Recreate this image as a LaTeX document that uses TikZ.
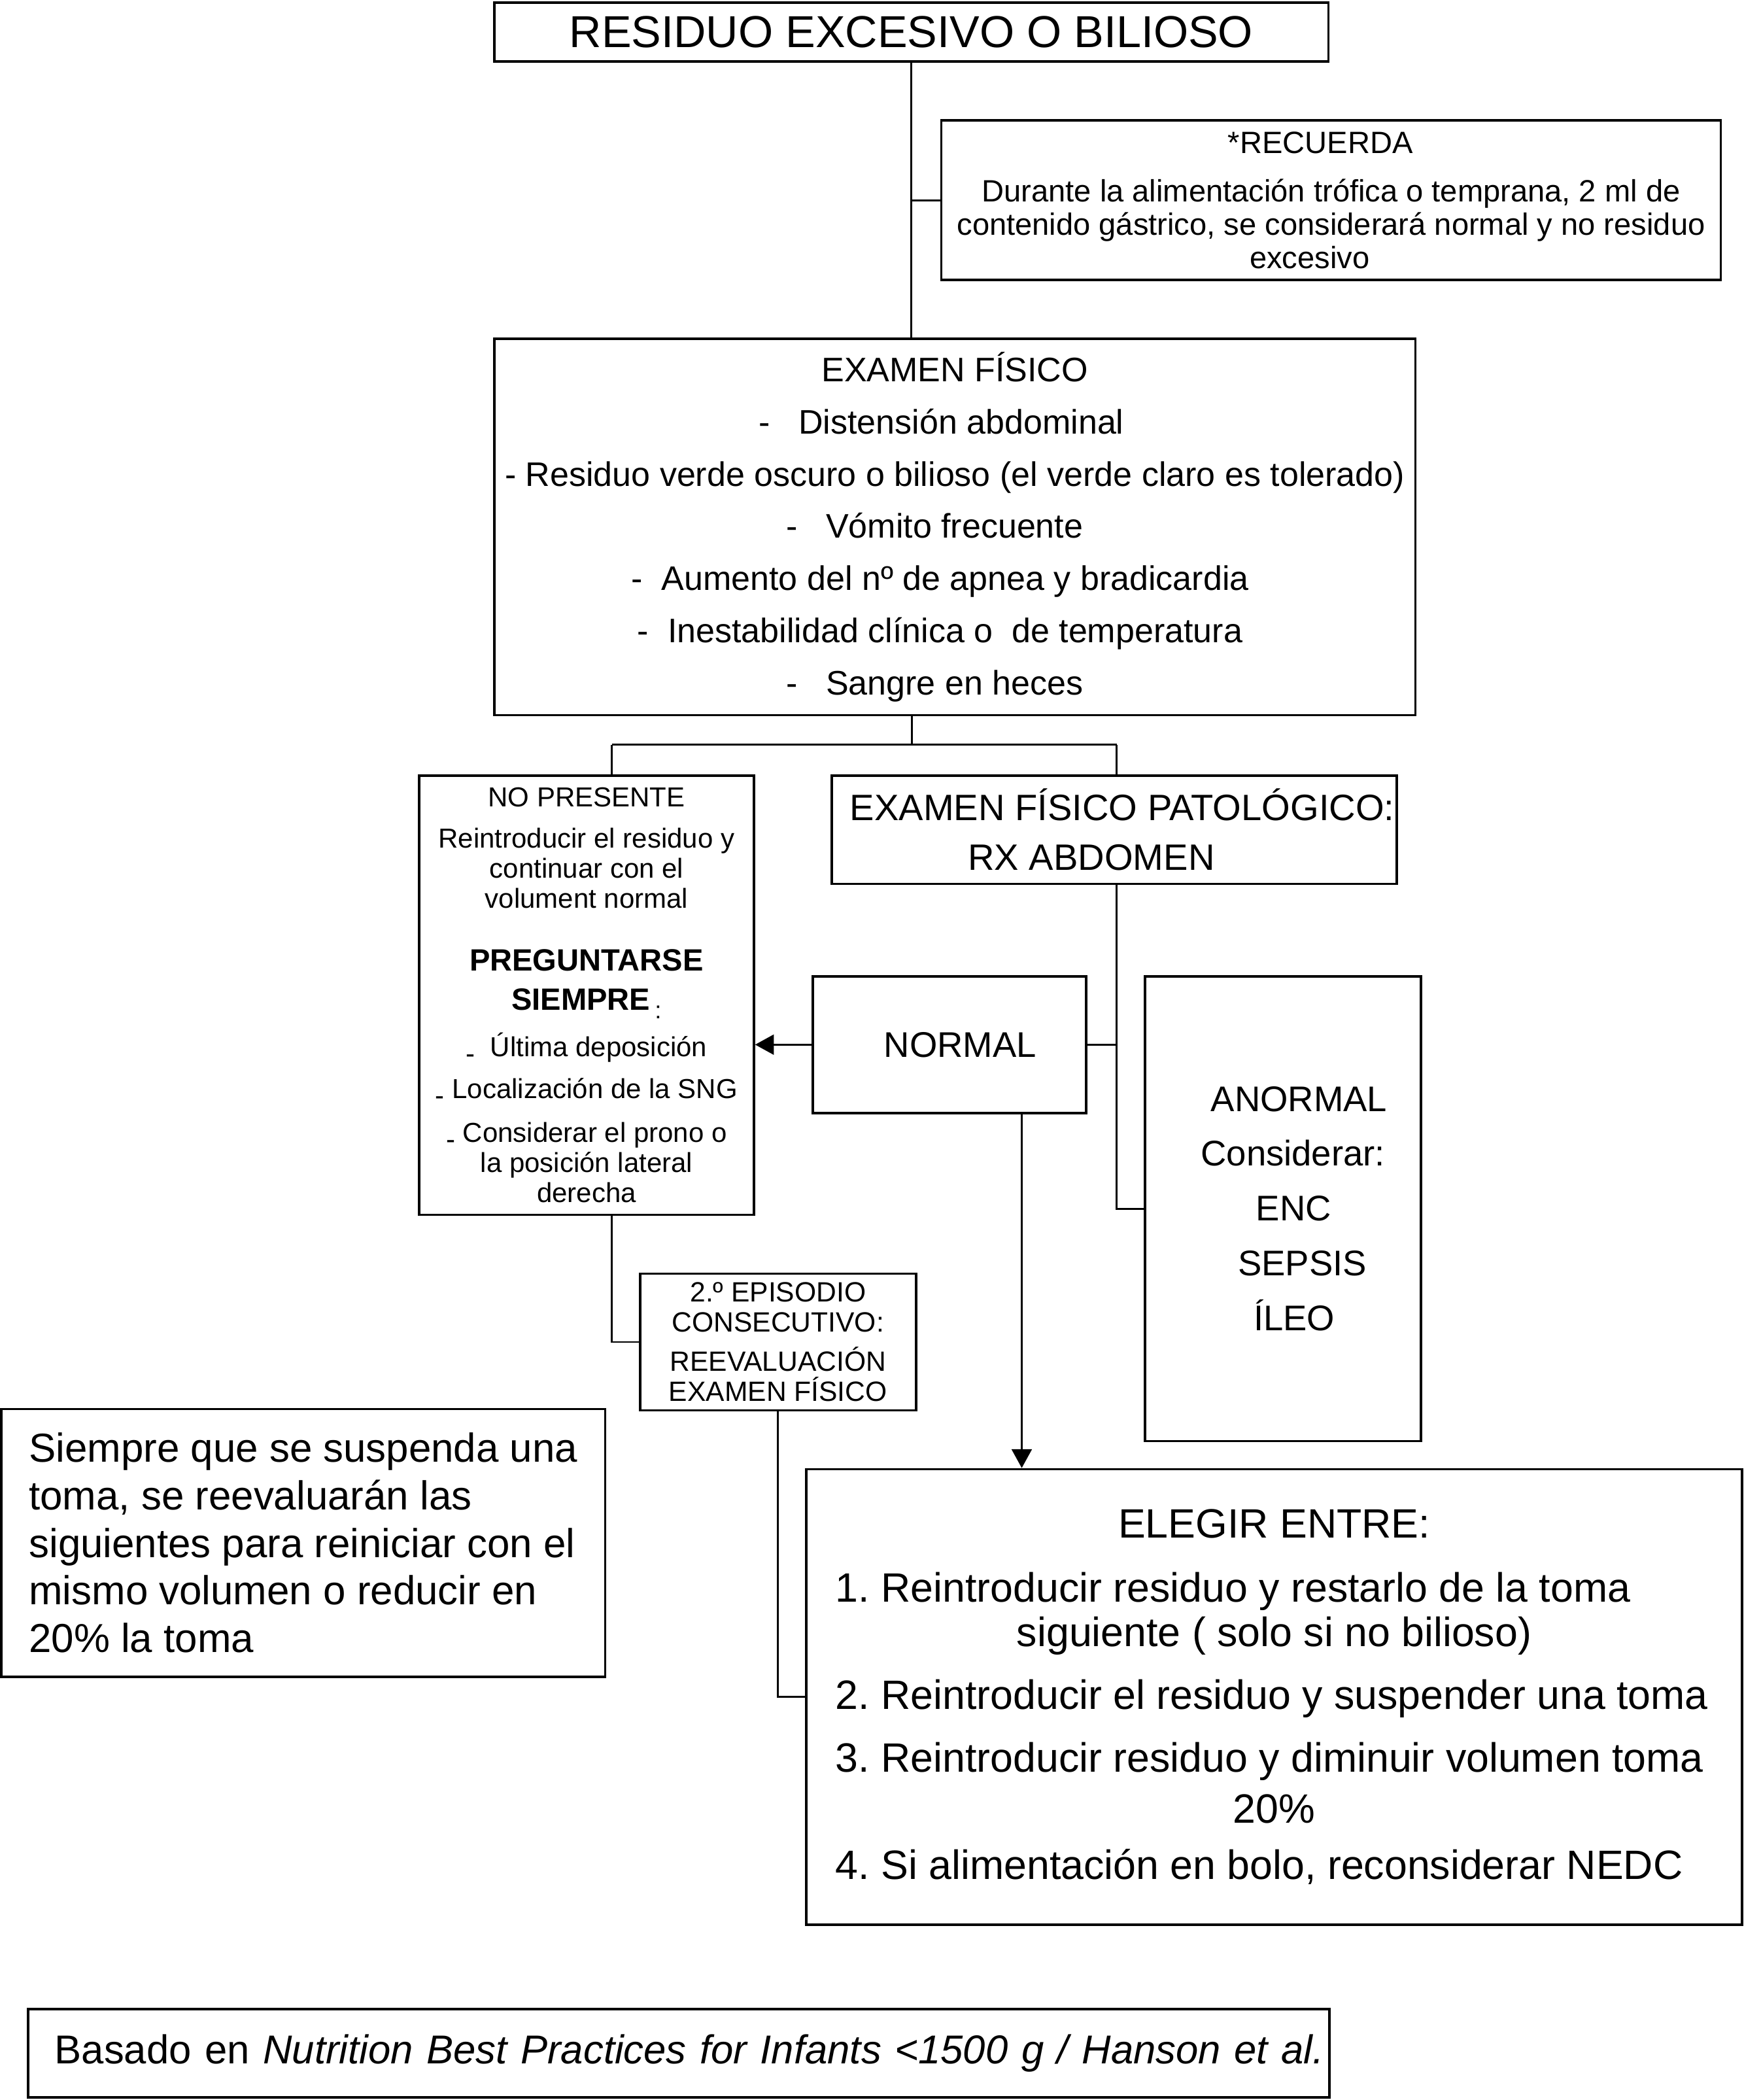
\documentclass[tikz,border=0pt]{standalone}
\usepackage{fontspec}
\setmainfont{Liberation Sans}
\usetikzlibrary{arrows.meta}
\frenchspacing

\tikzset{
  caja/.style={draw, line width=0.9pt, inner sep=0pt, align=center},
  linea/.style={line width=0.7pt},
  >={Triangle[length=7pt,width=7.5pt]}
}
\newcommand{\guion}{\raisebox{-0.45ex}{-}}
\newcommand{\renglon}[1]{\makebox[327.5pt][l]{#1}}

\begin{document}
\begin{tikzpicture}[x=0.5pt,y=-0.5pt]
  \useasboundingbox (0,0) rectangle (1302,1568);
  % ノードの配置
  \node[caja, minimum width=311.5pt, minimum height=22pt, font=\fontsize{16.7}{20}\selectfont] (titulo) at (680.5,24) {RESIDUO EXCESIVO O BILIOSO};
  \node[caja, minimum width=291pt, minimum height=59.5pt, font=\fontsize{11.5}{12.5}\selectfont] (recuerda) at (994,149.5)
    {*RECUERDA\hspace*{8pt}\\[5.5pt] Durante la alimentación trófica o temprana, 2 ml de\\ contenido gástrico, se considerará normal y no residuo\\ excesivo\hspace*{16pt}};
  \node[caja, minimum width=344pt, minimum height=140.5pt, font=\fontsize{12.7}{19.5}\selectfont] (examen) at (713,393.5)
    {EXAMEN FÍSICO\\ \hspace*{-10pt}-\ \ \ Distensión abdominal\\ - Residuo verde oscuro o bilioso (el verde claro es tolerado)\\
     \hspace*{-15pt}-\ \ \ Vómito frecuente\\ \hspace*{-11pt}-\ \ Aumento del nº de apnea y bradicardia\\
     \hspace*{-11pt}-\ \ Inestabilidad clínica o\ \ de temperatura\\ \hspace*{-15pt}-\ \ \ Sangre en heces};
  \node[caja, minimum width=125pt, minimum height=164pt, font=\fontsize{10.25}{11.25}\selectfont] (nopres) at (438,743)
    {NO PRESENTE\\[4.25pt] Reintroducir el residuo y\\ continuar con el\\ volument normal\\[12pt]
     {\fontsize{11.5}{13}\selectfont\bfseries PREGUNTARSE}\\[3.5pt]
     {\fontsize{11.5}{13}\selectfont\bfseries SIEMPRE}\,\raisebox{-0.6ex}{\fontsize{9}{9}\selectfont :}\\[4.25pt]
     \guion\ \ Última deposición\\[4.25pt] \guion\ Localización de la SNG\\[5.25pt]
     \guion\ Considerar el prono o\\ la posición lateral\\ derecha};
  \node[caja, minimum width=211pt, minimum height=40.5pt, font=\fontsize{13.7}{18.5}\selectfont] (patol) at (832,619.5)
    {\hspace*{6pt}EXAMEN FÍSICO PATOLÓGICO:\\ RX ABDOMEN\hspace*{17pt}};
  \node[caja, minimum width=102pt, minimum height=51pt, font=\fontsize{13.3}{16}\selectfont] (normal) at (709,780) {\hspace*{8pt}NORMAL};
  \node[caja, minimum width=103pt, minimum height=173.5pt, font=\fontsize{13.3}{20.5}\selectfont] (anormal) at (958,902.5)
    {\hspace*{12pt}ANORMAL\\ \hspace*{7.5pt}Considerar:\\ \hspace*{8pt}ENC\\ \hspace*{14.5pt}SEPSIS\\ \hspace*{8.5pt}ÍLEO};
  \node[caja, minimum width=103pt, minimum height=51pt, font=\fontsize{10.4}{11.25}\selectfont] (episodio) at (581,1002)
    {2.º EPISODIO\\ CONSECUTIVO:\\[3.25pt] REEVALUACIÓN\\ EXAMEN FÍSICO};
  \node[caja, minimum width=349.5pt, minimum height=170pt, font=\fontsize{15.3}{16.5}\selectfont] (elegir) at (951.5,1267)
    {ELEGIR ENTRE:\\[7.5pt] \renglon{1. Reintroducir residuo y restarlo de la toma}\\ siguiente ( solo si no bilioso)\\[7pt]
     \renglon{2. Reintroducir el residuo y suspender una toma}\\[7pt] \renglon{3. Reintroducir residuo y diminuir volumen toma}\\[2.5pt]
     20\%\\[4.5pt] \renglon{4. Si alimentación en bolo, reconsiderar NEDC}};
  \node[caja, minimum width=225.5pt, minimum height=100pt, align=left, font=\fontsize{15.1}{17.75}\selectfont] (siempre) at (226.5,1152)
    {Siempre que se suspenda una\\ toma, se reevaluarán las\\ siguientes para reiniciar con el\\ mismo volumen o reducir en\\ 20\% la toma};
  \node[caja, anchor=west, inner xsep=10pt, text width=466pt, minimum height=33pt, align=left, font=\fontsize{15.05}{17.75}\selectfont] (basado) at (20,1533)
    {\mbox{Basado en \textit{Nutrition Best Practices for Infants <1500 g / Hanson et al.}}};
  % 接続線
  \coordinate (izq) at (457,556);
  \coordinate (der) at (834,556);
  \coordinate (centro) at (681,556);
  \draw[linea] (titulo.south) -- (titulo.south |- examen.north);
  \draw[linea] (titulo.south |- recuerda.west) -- (recuerda.west);
  \draw[linea] (centro |- examen.south) -- (centro);
  \draw[linea] (izq) -- (der);
  \draw[linea] (izq) -- (izq |- nopres.north);
  \draw[linea] (der) -- (der |- patol.north);
  \draw[linea] (der |- patol.south) |- (anormal.west);
  \draw[linea] (der |- normal.east) -- (normal.east);
  \draw[linea,->] (normal.west) -- (normal.west -| nopres.east);
  \draw[linea,->] ([xshift=27pt]normal.south) -- ([xshift=27pt]normal.south |- elegir.north);
  \draw[linea] (izq |- nopres.south) |- (episodio.west);
  \draw[linea] (episodio.south) |- (elegir.west);
\end{tikzpicture}
\end{document}
